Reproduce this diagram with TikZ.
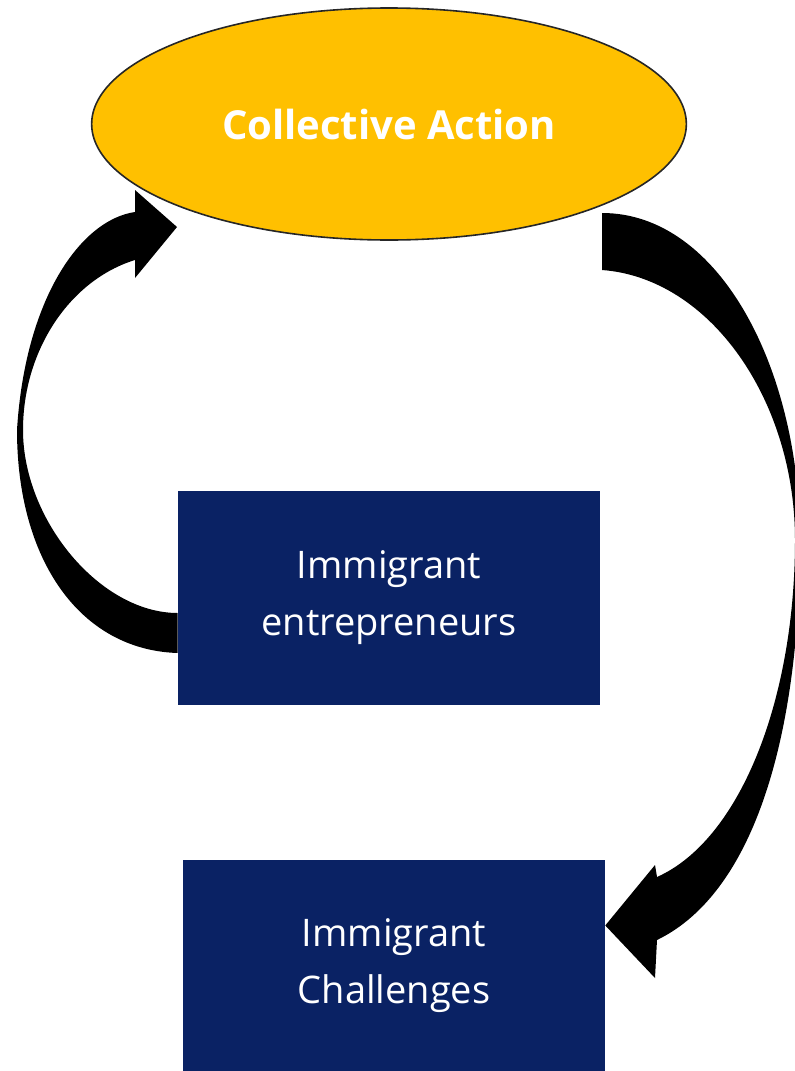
\documentclass[tikz,border=0pt]{standalone}
\usepackage{fontspec}
\setmainfont{Open Sans}
\usetikzlibrary{shapes.geometric,positioning,calc}
\definecolor{actgold}{HTML}{FFC000}
\definecolor{navybox}{HTML}{0A2264}
\begin{document}
\begin{tikzpicture}[x=0.75pt, y=-0.75pt, node distance=355.5pt,
    goal/.style={ellipse, draw=black!85, line width=1.2pt, fill=actgold, text=white,
        minimum width=446pt, minimum height=174pt, inner sep=0pt,
        font=\bfseries\fontsize{30}{36}\selectfont},
    block/.style={rectangle, fill=navybox, text=white, align=center,
        minimum width=316.5pt, minimum height=160.5pt, inner sep=0pt,
        font=\fontsize{28.5}{42.75}\selectfont},
    bigarrow/.style={fill=black, draw=none}]
    \useasboundingbox (0,0) rectangle (794,1071);
    % Place nodes
    \node [goal] (act) at (389,124) {Collective Action};
    \node [block, below of=act] (ent) {Immigrant\\entrepreneurs};
    \node [block, below of=ent, node distance=275.6pt, xshift=3.75pt,
        minimum height=158.25pt] (chal) {Immigrant\\Challenges};
    % Curved block arrows
    \fill [bigarrow] ($(ent.west)+(0,55)$) .. controls (80,650) and (17,560) .. (17,430)
        .. controls (25,300) and (80,220) .. (135,212) -- (135,190) -- (177,227)
        -- (135,278) -- (135,260) .. controls (70,280) and (23,350) .. (23,430)
        .. controls (23,520) and (100,613) .. ($(ent.west)+(0,15)$) -- cycle;
    \fill [bigarrow] (602,213) .. controls (720,213) and (800,370) .. (800,540)
        .. controls (800,720) and (760,890) .. (657,940) -- (655,978)
        -- ($(chal.east)+(0,-40)$) -- (655,865) -- (657,877)
        .. controls (740,840) and (795,700) .. (795,540)
        .. controls (795,400) and (710,278) .. (602,270) -- cycle;
\end{tikzpicture}
\end{document}
